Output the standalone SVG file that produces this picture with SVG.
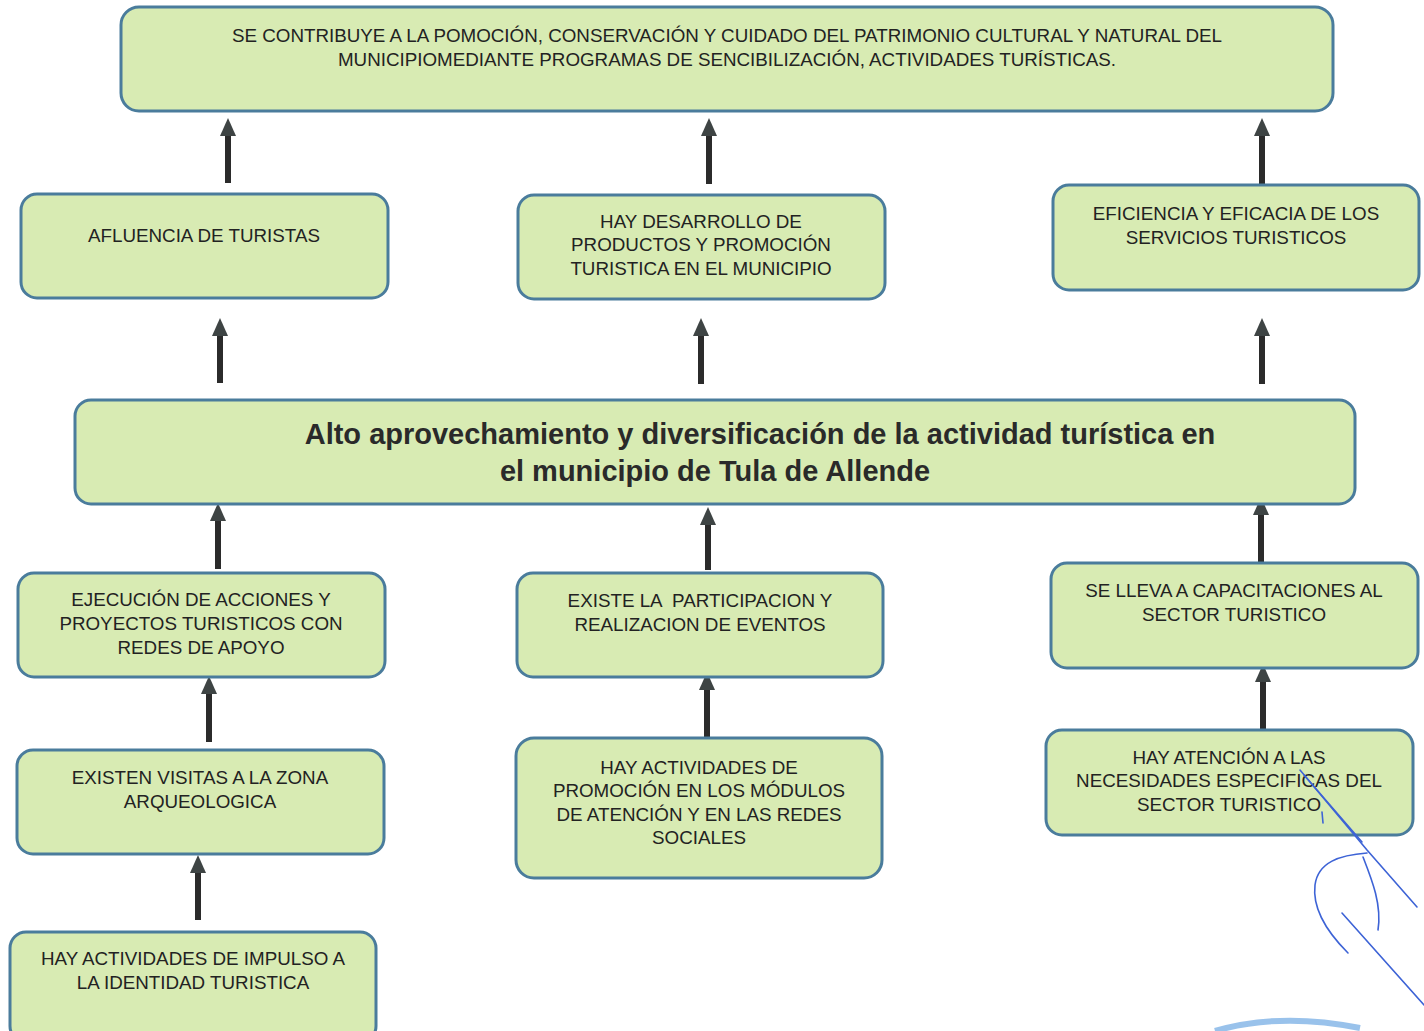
<svg xmlns="http://www.w3.org/2000/svg" width="1424" height="1031" viewBox="0 0 1424 1031">
<style>
.box{fill:#d8ebb3;stroke:#4a7c9c;stroke-width:3}
.t{font-family:"Liberation Sans",Arial,sans-serif;font-size:18.8px;fill:#222;text-anchor:middle}
.tb{font-family:"Liberation Sans",Arial,sans-serif;font-size:29px;font-weight:bold;fill:#2a2a2a;text-anchor:middle}
.arr{stroke:#2b2b2b;stroke-width:6;fill:none;marker-end:url(#ah)}
.sig{fill:none;stroke:#3d63d6;stroke-width:1.6;stroke-linecap:round}
</style>
<defs>
<marker id="ah" markerWidth="18" markerHeight="16" refX="0" refY="8" orient="auto" markerUnits="userSpaceOnUse" viewBox="0 0 18 16">
<path d="M0,0 L18,8 L0,16 Z" fill="#3e4444"/>
</marker>
</defs>
<rect width="1424" height="1031" fill="#fff"/>
<g id="connectors">
<line class="arr" x1="228" y1="183" x2="228" y2="136"/>
<line class="arr" x1="709" y1="184" x2="709" y2="136"/>
<line class="arr" x1="1262" y1="184" x2="1262" y2="136"/>
<line class="arr" x1="220" y1="383" x2="220" y2="336"/>
<line class="arr" x1="701" y1="384" x2="701" y2="336"/>
<line class="arr" x1="1262" y1="384" x2="1262" y2="336"/>
<line class="arr" x1="218" y1="569" x2="218" y2="521"/>
<line class="arr" x1="708" y1="570" x2="708" y2="525"/>
<line class="arr" x1="1261" y1="562" x2="1261" y2="515"/>
<line class="arr" x1="209" y1="742" x2="209" y2="694"/>
<line class="arr" x1="707" y1="737" x2="707" y2="690"/>
<line class="arr" x1="1263" y1="729" x2="1263" y2="682"/>
<line class="arr" x1="198" y1="920" x2="198" y2="873"/>
</g>
<g id="n-fin">
<rect class="box" x="121" y="7" width="1212" height="104" rx="18"/>
<text class="t" x="727" y="42">SE CONTRIBUYE A LA POMOCIÓN, CONSERVACIÓN Y CUIDADO DEL PATRIMONIO CULTURAL Y NATURAL DEL</text>
<text class="t" x="727" y="66">MUNICIPIOMEDIANTE PROGRAMAS DE SENCIBILIZACIÓN, ACTIVIDADES TURÍSTICAS.</text>
</g>
<g id="n-afluencia">
<rect class="box" x="21" y="194" width="367" height="104" rx="16"/>
<text class="t" x="204" y="242">AFLUENCIA DE TURISTAS</text>
</g>
<g id="n-desarrollo">
<rect class="box" x="518" y="195" width="367" height="104" rx="16"/>
<text class="t" x="701" y="228">HAY DESARROLLO DE</text>
<text class="t" x="701" y="251">PRODUCTOS Y PROMOCIÓN</text>
<text class="t" x="701" y="275">TURISTICA EN EL MUNICIPIO</text>
</g>
<g id="n-eficiencia">
<rect class="box" x="1053" y="185" width="366" height="105" rx="16"/>
<text class="t" x="1236" y="220">EFICIENCIA Y EFICACIA DE LOS</text>
<text class="t" x="1236" y="244">SERVICIOS TURISTICOS</text>
</g>
<g id="n-proposito">
<rect class="box" x="75" y="400" width="1280" height="104" rx="16"/>
<text class="tb" x="760" y="444">Alto aprovechamiento y diversificación de la actividad turística en</text>
<text class="tb" x="715" y="481">el municipio de Tula de Allende</text>
</g>
<g id="n-ejecucion">
<rect class="box" x="18" y="573" width="367" height="104" rx="16"/>
<text class="t" x="201" y="606">EJECUCIÓN DE ACCIONES Y</text>
<text class="t" x="201" y="630">PROYECTOS TURISTICOS CON</text>
<text class="t" x="201" y="654">REDES DE APOYO</text>
</g>
<g id="n-participacion">
<rect class="box" x="517" y="573" width="366" height="104" rx="16"/>
<text class="t" x="700" y="607" xml:space="preserve">EXISTE LA  PARTICIPACION Y</text>
<text class="t" x="700" y="631">REALIZACION DE EVENTOS</text>
</g>
<g id="n-capacitaciones">
<rect class="box" x="1051" y="563" width="367" height="105" rx="16"/>
<text class="t" x="1234" y="597">SE LLEVA A CAPACITACIONES AL</text>
<text class="t" x="1234" y="621">SECTOR TURISTICO</text>
</g>
<g id="n-visitas">
<rect class="box" x="17" y="750" width="367" height="104" rx="16"/>
<text class="t" x="200" y="784">EXISTEN VISITAS A LA ZONA</text>
<text class="t" x="200" y="808">ARQUEOLOGICA</text>
</g>
<g id="n-promocion">
<rect class="box" x="516" y="738" width="366" height="140" rx="18"/>
<text class="t" x="699" y="774">HAY ACTIVIDADES DE</text>
<text class="t" x="699" y="797">PROMOCIÓN EN LOS MÓDULOS</text>
<text class="t" x="699" y="821">DE ATENCIÓN Y EN LAS REDES</text>
<text class="t" x="699" y="844">SOCIALES</text>
</g>
<g id="n-atencion">
<rect class="box" x="1046" y="730" width="367" height="105" rx="16"/>
<text class="t" x="1229" y="764">HAY ATENCIÓN A LAS</text>
<text class="t" x="1229" y="787">NECESIDADES ESPECIFICAS DEL</text>
<text class="t" x="1229" y="811">SECTOR TURISTICO</text>
</g>
<g id="n-identidad">
<rect class="box" x="10" y="932" width="366" height="110" rx="16"/>
<text class="t" x="193" y="965">HAY ACTIVIDADES DE IMPULSO A</text>
<text class="t" x="193" y="989">LA IDENTIDAD TURISTICA</text>
</g>
<g id="signature">
<path class="sig" d="M1300,770 L1367,850 L1417,907"/>
<path class="sig" d="M1304,775 L1362,842"/>
<path class="sig" d="M1367,853 C1340,855 1318,862 1315,885 C1312,910 1330,935 1348,953"/>
<path class="sig" d="M1363,857 C1372,880 1382,905 1378,930"/>
<path class="sig" d="M1342,913 L1424,1005"/>
<path class="sig" d="M1322,812 L1323,823"/>
<path d="M1215,1031 Q1280,1012 1360,1028" fill="none" stroke="#7fb3e6" stroke-width="6" opacity="0.8"/>
</g>
</svg>
